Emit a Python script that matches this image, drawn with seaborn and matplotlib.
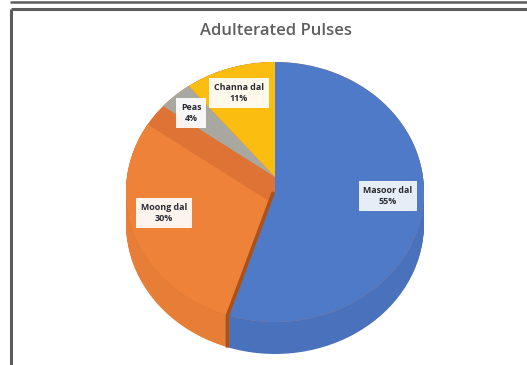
import numpy as np
import matplotlib
matplotlib.use("Agg")
import matplotlib.pyplot as plt
from matplotlib.lines import Line2D
import seaborn as sns

labels = ["Masoor dal", "Moong dal", "Peas", "Channa dal"]
values = [55, 30, 4, 11]
title = "Adulterated Pulses"

sns.set_theme(style="white")
plt.rcParams["font.family"] = ["Open Sans", "DejaVu Sans"]

top = sns.color_palette(["#4f7ac8", "#ee8239", "#a9a8a0", "#fbbd0f"])
side = sns.color_palette(["#4a72bc", "#e67e38", "#a9a8a0", "#fbbd0f"])
BROWN = "#a9521c"
DARK_ORANGE = "#dd7334"

W, H = 527, 365
CX, CY, RX, RY, DEPTH = 275, 192, 149, 130, 32

fig = plt.figure(figsize=(W / 100, H / 100), dpi=100, facecolor="white")
ax = fig.add_axes([0, 0, 1, 1])


def px(dx, dy):
    """pixel offset (x right, y down) to data units"""
    return (dx / RX, -dy / RY)


def draw(colors, offset, clip=None, radius=1.0, vals=values):
    wedges, _ = ax.pie(vals, colors=colors, center=px(*offset), radius=radius,
                       startangle=90, counterclock=False, frame=True,
                       wedgeprops=dict(linewidth=0))
    if clip is not None:
        for w, c in zip(wedges, clip):
            if c is not None:
                w.set_clip_on(True)
                w.set_clip_path(c)
    return wedges


N = "none"
# extruded side of the pie
for d in np.arange(DEPTH, 0, -1):
    draw([side[0], side[1], N, N], (0, d))

# top face: a solid underlay stops seams showing the layers below
under = draw([DARK_ORANGE], (0, 0), vals=[1])
base = draw([top[0], DARK_ORANGE, DARK_ORANGE, DARK_ORANGE], (0, 0))
clip_m = [None, base[1], None, None]
light = draw([N, top[1], N, N], (0, 13), clip=clip_m, radius=1.3)

# raised peas and channa slices, kept inside the top face
ellipse = plt.Circle(px(0, 0), 1, transform=ax.transData)
raised = draw([N, N, top[2], top[3]], (0, -15), radius=1.3,
              clip=[None, None, ellipse, ellipse])
for z, group in zip([3, 4, 6, 7], [under, base, light, raised]):
    for w in group:
        w.set_zorder(z)

# dark wall where Moong meets Masoor: across the top face, then down the side
theta = np.deg2rad(90 - 360 * values[0] / sum(values))
shift = 1.5 / RX
wx = np.cos(theta) - shift
wy = np.sin(theta)
ax.plot([-shift, wx, wx], [0, wy, wy - DEPTH / RY], color=BROWN, lw=2.6,
        solid_capstyle="butt", solid_joinstyle="miter", zorder=8)

ax.set_aspect("auto")
ax.set_xlim(-CX / RX, (W - CX) / RX)
ax.set_ylim((CY - H) / RY, CY / RY)
ax.axis("off")

# frame lines
line = dict(transform=fig.transFigure, color="#5c5c5c", solid_capstyle="butt")
fig.add_artist(Line2D([10 / W, 1], [1 - 2 / H] * 2, lw=1.8, **line))
fig.add_artist(Line2D([11 / W, 1], [1 - 8.5 / H] * 2, lw=2.2, **line))
fig.add_artist(Line2D([11 / W, 11 / W], [0, 1 - 8.5 / H], lw=2.2, **line))

fig.text(276 / W, 1 - 31 / H, title, ha="center", va="center",
         fontsize=12, color="#5f5f5f", fontweight="semibold")

label_px = [(388, 196), (164, 213), (191, 113), (239, 93)]
for name, val, (x, y), a in zip(labels, values, label_px, [0.87, 0.92, 0.92, 0.92]):
    fig.text(x / W, 1 - y / H, f"{name}\n{val}%", ha="center", va="center",
             fontsize=6.4, fontweight="bold", color="#2b2b33", linespacing=1.4,
             bbox=dict(boxstyle="square,pad=0.55", fc="white", ec="none", alpha=a))

fig.savefig("out.png", dpi=100)
